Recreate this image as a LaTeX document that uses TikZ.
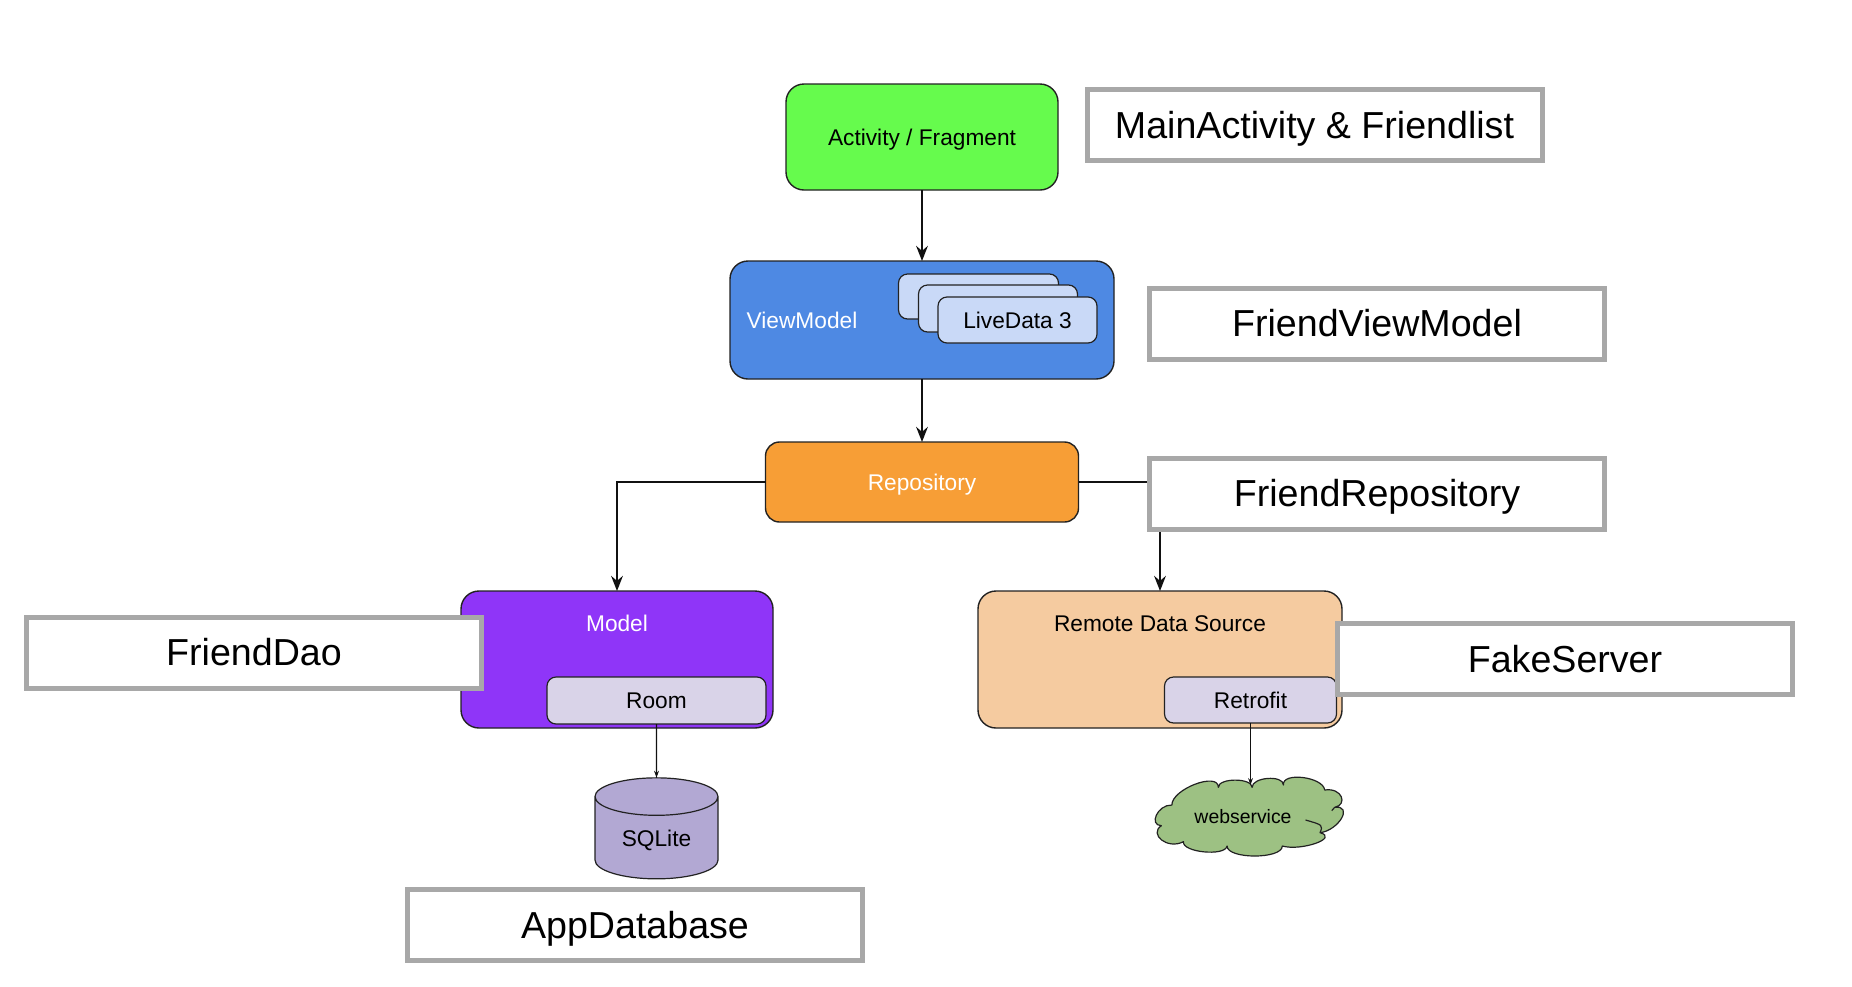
\documentclass[tikz,border=0pt]{standalone}
\usepackage{fontspec}
\setmainfont{Liberation Sans}
\usetikzlibrary{arrows.meta,shapes.geometric}
\definecolor{cgreen}{HTML}{66FB4D}
\definecolor{cblue}{HTML}{4E89E3}
\definecolor{clight}{HTML}{C9D9F7}
\definecolor{corange}{HTML}{F79E36}
\definecolor{cpurple}{HTML}{8F35F8}
\definecolor{croom}{HTML}{D9D3E8}
\definecolor{cpeach}{HTML}{F5CBA0}
\definecolor{ccyl}{HTML}{B2A8D3}
\definecolor{ccloud}{HTML}{9DC183}
\definecolor{cgray}{HTML}{A8A8A8}
\definecolor{cedge}{HTML}{222222}
\definecolor{cline}{HTML}{111111}
\tikzset{
  smalltext/.style={font=\fontsize{11.35}{13}\selectfont,text height=8.2pt,text depth=0pt},
  bigtext/.style={font=\fontsize{18.8}{22}\selectfont,text height=13pt,text depth=0pt},
  roundbox/.style={draw=cedge,line width=.7pt,rounded corners=9pt,inner sep=0pt,outer sep=0pt,smalltext},
  innerbox/.style={draw=cedge,line width=.6pt,rounded corners=4.5pt,inner sep=0pt,outer sep=0pt,smalltext},
  tagbox/.style={draw=cgray,line width=2.5pt,fill=white,inner sep=0pt,outer sep=0pt,bigtext,minimum width=227.5pt,minimum height=35.5pt},
  lab/.style={inner sep=0pt,outer sep=0pt,smalltext},
  thick arrow/.style={draw=cline,line width=1.4pt,-{Stealth[length=7.5pt,width=5.8pt]}},
  thin arrow/.style={draw=cline,line width=.6pt,-{Stealth[length=3.5pt,width=2.4pt]}},
}
\begin{document}
\begin{tikzpicture}[x=.5pt,y=-.5pt]
\useasboundingbox[fill=white] (0,0) rectangle (1852,986);

% main boxes
\node[roundbox,fill=cgreen,minimum width=136pt,minimum height=53pt] (activity) at (922,137) {Activity / Fragment};
\node[roundbox,fill=cblue,minimum width=192pt,minimum height=59pt] (viewmodel) at (922,320) {};
\node[lab,text=white] (vmlabel) at (802,320) {ViewModel};
\node[innerbox,fill=clight,minimum width=80pt,minimum height=22.5pt] (ld1) at (978.5,296.5) {};
\node[innerbox,fill=clight,minimum width=79.5pt,minimum height=23.5pt] (ld2) at (998,308.5) {};
\node[innerbox,fill=clight,minimum width=79.5pt,minimum height=23pt] (ld3) at (1017.5,320) {LiveData 3};
\node[roundbox,rounded corners=7pt,fill=corange,text=white,minimum width=156.5pt,minimum height=40pt] (repo) at (922,482) {Repository};

\node[roundbox,fill=cpurple,minimum width=156pt,minimum height=68.5pt] (model) at (617,659.5) {};
\node[lab,text=white] (modellabel) at (617,623) {Model};
\node[innerbox,fill=croom,minimum width=109.5pt,minimum height=23.5pt] (room) at (656.5,700.5) {Room};

\node[roundbox,fill=cpeach,minimum width=182pt,minimum height=68.5pt] (remote) at (1160,659.5) {};
\node[lab] (remotelabel) at (1160,623) {Remote Data Source};
\node[innerbox,fill=croom,minimum width=86pt,minimum height=23pt] (retrofit) at (1250.5,700) {Retrofit};

% database cylinder
\node[shape=cylinder,shape border rotate=90,shape aspect=.54,draw=cedge,line width=.6pt,fill=ccyl,
      inner sep=0pt,outer sep=0pt,smalltext,minimum width=61.5pt,minimum height=50.5pt] (sqlite) at (656.5,838) {SQLite};

% cloud (zoomed-crop units inside the scope)
\begin{scope}[xshift=474pt,yshift=-280pt,x=.2907pt,y=-.16667pt]
\draw[draw=cedge,line width=.6pt,fill=ccloud,line join=round]
  (385,735) .. controls (385,687) and (465,634) .. (465,682)
  .. controls (465,653) and (523,653) .. (523,682)
  .. controls (523,651) and (577,644) .. (577,675)
  .. controls (574,635) and (645,650) .. (648,690)
  .. controls (678,682) and (688,734) .. (665,742)
  .. controls (698,735) and (672,811) .. (640,818)
  .. controls (673,834) and (608,874) .. (575,858)
  .. controls (575,898) and (480,898) .. (480,858)
  .. controls (477,890) and (402,877) .. (405,845)
  .. controls (377,870) and (345,822) .. (367,797)
  .. controls (345,796) and (360,734) .. (385,735) -- cycle;
\draw[draw=cedge,line width=.6pt] (615,780) .. controls (645,795) .. (640,818);
\draw[draw=cedge,line width=.6pt] (665,742) -- (660,752);
\end{scope}
\node[lab,font=\fontsize{9.7}{12}\selectfont,text height=7pt] (webservice) at (1243,816) {webservice};
\coordinate (cloudtop) at (1250.5,785);

% connectors
\draw[thick arrow] (activity.south) -- (viewmodel.north);
\draw[thick arrow] (viewmodel.south) -- (repo.north);
\draw[thick arrow] (repo.west) -| (model.north);
\draw[thick arrow] (repo.east) -| (remote.north);
\draw[thin arrow] (room.south) -- (sqlite.north);
\draw[thin arrow] (retrofit.south) -- (cloudtop);

% tag boxes drawn over everything
\node[tagbox] (tagmain) at (1314.5,125) {MainActivity \& Friendlist};
\node[tagbox] (tagvm) at (1377,323.5) {FriendViewModel};
\node[tagbox] (tagrepo) at (1377,493.5) {FriendRepository};
\node[tagbox] (tagdao) at (254,652.5) {FriendDao};
\node[tagbox] (tagdb) at (635,925) {AppDatabase};
\node[tagbox] (tagfake) at (1565,659) {FakeServer};
\end{tikzpicture}
\end{document}
